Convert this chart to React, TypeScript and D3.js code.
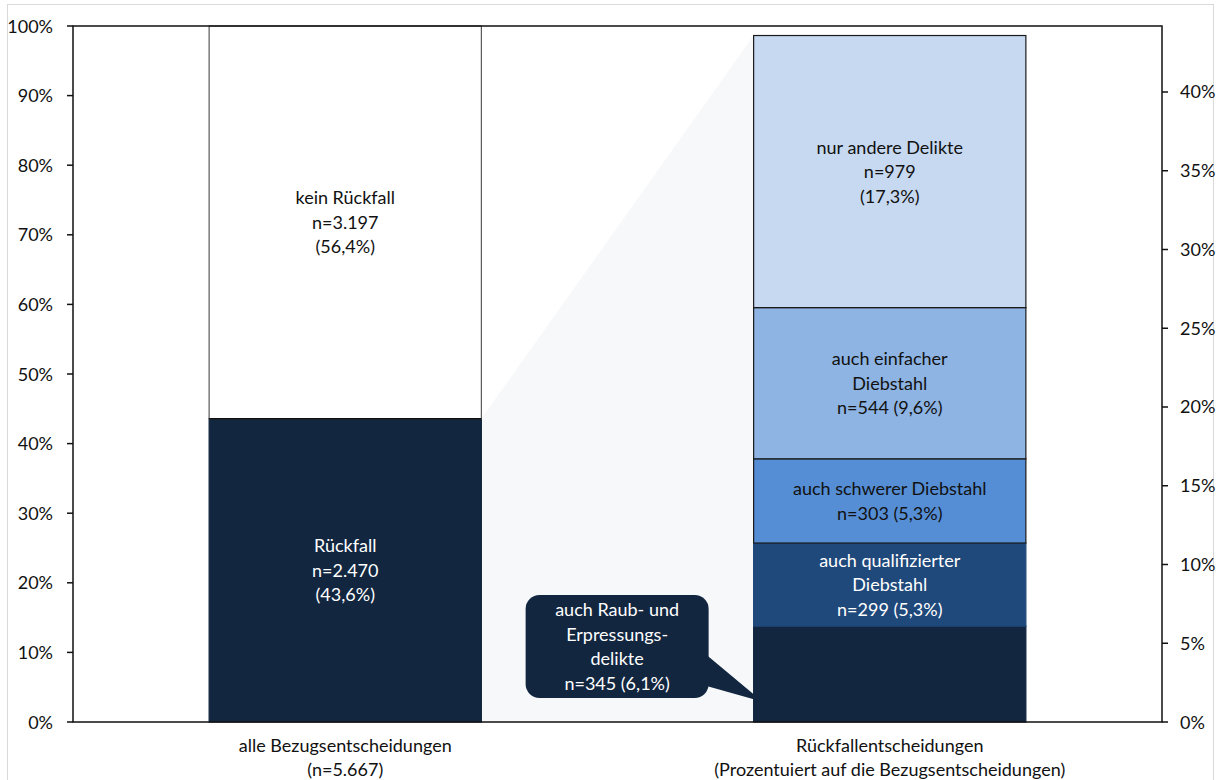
import React from 'react';
import * as d3 from 'd3';

// data
const categories = ['alle Bezugsentscheidungen', 'Rückfallentscheidungen'];
const categorySub = ['(n=5.667)', '(Prozentuiert auf die Bezugsentscheidungen)'];
const total = 5667;

const leftNames = ['Rückfall', 'kein Rückfall'];
const leftCounts = [2470, 3197];

const rightNames = [
  'auch Raub- und\nErpressungs-\ndelikte',
  'auch qualifizierter\nDiebstahl',
  'auch schwerer Diebstahl',
  'auch einfacher\nDiebstahl',
  'nur andere Delikte',
];
const rightCounts = [345, 299, 303, 544, 979];
const rightSplitPct = [false, false, false, false, true];

const leftTicks = [0, 0.1, 0.2, 0.3, 0.4, 0.5, 0.6, 0.7, 0.8, 0.9, 1];
const rightTicks = [0, 0.05, 0.1, 0.15, 0.2, 0.25, 0.3, 0.35, 0.4];
const rightMax = 0.4419;

const leftColors = ['#12263f', '#ffffff'];
const leftText = ['#ffffff', '#111111'];
const rightColors = ['#12263f', '#1f487b', '#558ed5', '#8eb4e3', '#c6d9f0'];
const rightText = ['#ffffff', '#ffffff', '#111111', '#111111', '#111111'];

const W = 1220;
const H = 780;
const m = { left: 73, right: 58, top: 26, bottom: 58 };
const FONT = 'Lato, "Open Sans", sans-serif';
const FS = 18;
const LH = 24.5;

const de = d3.formatLocale({ decimal: ',', thousands: '.', grouping: [3], currency: ['', '€'] });
const fmtN = de.format(',');
const fmtP = de.format('.1%');

type Seg = { y0: number; y1: number; lines: string[]; fill: string; text: string };

const App = () => {
  const x = d3.scaleBand<string>()
    .domain(categories)
    .range([m.left, W - m.right])
    .paddingInner(0.5)
    .paddingOuter(0.25);
  const yL = d3.scaleLinear().domain([0, 1]).range([H - m.bottom, m.top]);
  const yR = d3.scaleLinear().domain([0, rightMax]).range([H - m.bottom, m.top]);
  const bw = x.bandwidth();
  const xL = x(categories[0])!;
  const xR = x(categories[1])!;

  const leftStack = d3.cumsum(leftCounts.map((c) => c / total));
  const leftSegs: Seg[] = leftCounts.map((c, i) => ({
    y0: i === 0 ? 0 : leftStack[i - 1],
    y1: leftStack[i],
    lines: [leftNames[i], 'n=' + fmtN(c), '(' + fmtP(c / total) + ')'],
    fill: leftColors[i],
    text: leftText[i],
  }));

  const rightStack = d3.cumsum(rightCounts.map((c) => c / total));
  const rightSegs: Seg[] = rightCounts.map((c, i) => {
    const nLine = 'n=' + fmtN(c);
    const pLine = '(' + fmtP(c / total) + ')';
    return {
      y0: i === 0 ? 0 : rightStack[i - 1],
      y1: rightStack[i],
      lines: [...rightNames[i].split('\n'), ...(rightSplitPct[i] ? [nLine, pLine] : [nLine + ' ' + pLine])],
      fill: rightColors[i],
      text: rightText[i],
    };
  });

  const rueckTotal = leftStack[0];
  const plotBottom = yL(0);

  const label = (lines: string[], cx: number, cy: number, color: string, key: string) => (
    <text key={key} x={cx} textAnchor="middle" fill={color} fontSize={FS} fontFamily={FONT}>
      {lines.map((l, j) => (
        <tspan key={j} x={cx} y={cy + (j - (lines.length - 1) / 2) * LH + 6.5}>{l}</tspan>
      ))}
    </text>
  );

  // callout for the bottom right segment
  const tipX = xR + 9;
  const tipY = yR(0.0128);
  const boxR = xR - 45;
  const boxW = 183;
  const boxB = plotBottom - 24;
  const boxH = 103;
  const raub = rightSegs[0];

  return (
    <svg width={W} height={H} style={{ position: 'absolute', left: 0, top: 0 }}>
      <rect x={0} y={0} width={W} height={H} fill="#fff" />
      <rect x={7.5} y={4.5} width={1206} height={800} fill="none" stroke="#d9d9d9" />

      {/* connector shading */}
      <polygon
        points={[
          [xL + bw, yL(rueckTotal)],
          [xR, yR(rueckTotal)],
          [xR, yR(0)],
          [xL + bw, yL(0)],
        ].map((p) => p.join(',')).join(' ')}
        fill="#f7f8fa"
      />

      {/* left bar */}
      {leftSegs.map((s, i) => (
        <rect key={'l' + i} x={xL} y={yL(s.y1)} width={bw} height={yL(s.y0) - yL(s.y1)}
          fill={s.fill} stroke={i === 0 ? '#12263f' : '#595959'} strokeWidth={1.2} />
      ))}
      <line x1={xL} x2={xL + bw} y1={yL(rueckTotal)} y2={yL(rueckTotal)} stroke="#111" strokeWidth={1.5} />

      {/* right bar */}
      {rightSegs.map((s, i) => (
        <rect key={'r' + i} x={xR} y={yR(s.y1)} width={bw} height={yR(s.y0) - yR(s.y1)}
          fill={s.fill} stroke={i < 2 ? s.fill : '#1a1a1a'} strokeWidth={1.2} />
      ))}

      {leftSegs.map((s, i) => label(s.lines, xL + bw / 2, (yL(s.y0) + yL(s.y1)) / 2, s.text, 'll' + i))}
      {rightSegs.slice(1).map((s, i) => label(s.lines, xR + bw / 2, (yR(s.y0) + yR(s.y1)) / 2, s.text, 'rl' + i))}

      {/* callout */}
      <g>
        <rect x={boxR - boxW} y={boxB - boxH} width={boxW} height={boxH} rx={14} fill={raub.fill} />
        <polygon points={`${boxR - 2},${boxB - 43} ${tipX},${tipY} ${boxR - 2},${boxB - 12}`} fill={raub.fill} />
        {label(raub.lines, boxR - boxW / 2, boxB - boxH / 2, raub.text, 'callout')}
      </g>

      {/* plot frame */}
      <rect x={m.left} y={m.top} width={W - m.right - m.left} height={plotBottom - m.top}
        fill="none" stroke="#111" strokeWidth={1.5} />

      {/* left axis */}
      {leftTicks.map((t) => (
        <g key={'lt' + t}>
          <line x1={m.left - 6} x2={m.left} y1={yL(t)} y2={yL(t)} stroke="#111" strokeWidth={1.5} />
          <text x={m.left - 20} y={yL(t) + 6.5} textAnchor="end" fontSize={FS} fontFamily={FONT} fill="#111">
            {d3.format('.0%')(t)}
          </text>
        </g>
      ))}

      {/* right axis */}
      {rightTicks.map((t) => (
        <g key={'rt' + t}>
          <line x1={W - m.right} x2={W - m.right + 6} y1={yR(t)} y2={yR(t)} stroke="#111" strokeWidth={1.5} />
          <text x={W - m.right + 18} y={yR(t) + 6.5} textAnchor="start" fontSize={FS} fontFamily={FONT} fill="#111">
            {d3.format('.0%')(t)}
          </text>
        </g>
      ))}

      {/* category labels */}
      {categories.map((c, i) => (
        <text key={'c' + i} x={x(c)! + bw / 2} textAnchor="middle" fontSize={FS} fontFamily={FONT} fill="#111">
          <tspan x={x(c)! + bw / 2} y={plotBottom + 30}>{c}</tspan>
          <tspan x={x(c)! + bw / 2} y={plotBottom + 54}>{categorySub[i]}</tspan>
        </text>
      ))}
    </svg>
  );
};

export default App;
